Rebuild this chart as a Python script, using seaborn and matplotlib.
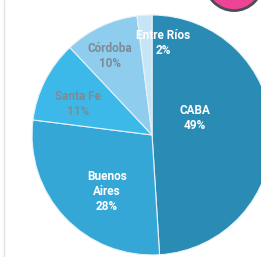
import matplotlib
matplotlib.use("Agg")
import matplotlib.pyplot as plt
import seaborn as sns
from matplotlib.patches import Circle
from matplotlib.lines import Line2D

sns.set_theme(style="white")
plt.rcParams['font.family'] = ['Roboto', 'DejaVu Sans']

provinces = ["CABA", "Buenos\nAires", "Santa Fe", "Córdoba", "Entre Ríos"]
shares = [49, 28, 11, 10, 2]

colors = sns.color_palette(["#2a8cb5", "#34a7d6", "#3cb9e9", "#8fcdef", "#c6e5f7"])
text_colors = ["white", "white", "#7d8b94", "#7d8b94", "white"]
# label positions (layout), in axis data units
label_pos = [(0.36, 0.14), (-0.375, -0.47), (-0.62, 0.26), (-0.35, 0.66), (0.09, 0.77)]

fig = plt.figure(figsize=(2.61, 2.57), dpi=100)
ax = fig.add_axes([0, 0, 1, 1])
wedges, _ = ax.pie(shares, colors=colors, startangle=90, counterclock=False,
                   wedgeprops=dict(edgecolor="#e6f2f8", linewidth=0.8))
for name, val, (x, y), tc in zip(provinces, shares, label_pos, text_colors):
    ax.text(x, y, f"{name}\n{val}%", ha="center", va="center", color=tc,
            fontsize=8.5, fontweight="bold", linespacing=1.2)

ax.set_xlim(-1.267, 0.908)
ax.set_ylim(-1.017, 1.125)
ax.set_aspect("auto")
ax.axis("off")

# decorative elements
fig.add_artist(Line2D([3.5 / 261, 3.5 / 261], [0, 1], color="#e3e3e3", lw=1))
ax.add_patch(Circle((0.683, 1.275), 0.238, facecolor="#ee4496", edgecolor="#4a4f57",
                    lw=2, clip_on=False))

fig.savefig("out.png", dpi=100)
